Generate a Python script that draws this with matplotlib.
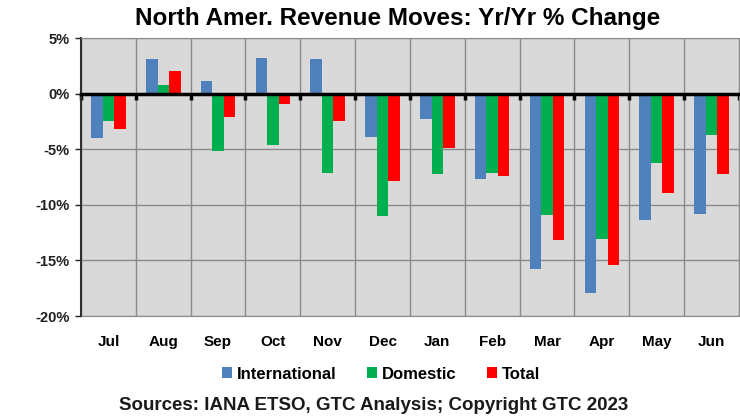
import numpy as np
import matplotlib
matplotlib.use("Agg")
import matplotlib.pyplot as plt
from matplotlib.ticker import FuncFormatter

plt.rcParams['font.family'] = ['Liberation Sans', 'DejaVu Sans']

months = ["Jul", "Aug", "Sep", "Oct", "Nov", "Dec", "Jan", "Feb", "Mar", "Apr", "May", "Jun"]
international = [-4.0, 3.1, 1.1, 3.2, 3.1, -3.9, -2.3, -7.7, -15.8, -17.9, -11.4, -10.8]
domestic = [-2.5, 0.8, -5.2, -4.6, -7.1, -11.0, -7.2, -7.1, -10.9, -13.1, -6.2, -3.7]
total = [-3.2, 2.0, -2.1, -0.9, -2.5, -7.9, -4.9, -7.4, -13.2, -15.4, -8.9, -7.2]

fig = plt.figure(figsize=(7.4, 4.18), dpi=100)
ax = fig.add_axes([0.1095, 0.244, 0.889, 0.665])
ax.set_facecolor("#d9d9d9")

x = np.arange(len(months))
w = 0.21
ax.bar(x - w, international, w, color="#4f81bd", label="International", zorder=3)
ax.bar(x, domestic, w, color="#00b050", label="Domestic", zorder=3)
ax.bar(x + w, total, w, color="#ff0000", label="Total", zorder=3)

ax.set_xlim(-0.5, len(months) - 0.5)
ax.set_ylim(-20, 5)
ax.set_yticks(np.arange(-20, 6, 5))
ax.yaxis.set_major_formatter(FuncFormatter(lambda v, p: "%d%%" % v))
for lab in ax.get_yticklabels():
    lab.set_fontweight("bold")
ax.tick_params(axis="y", labelsize=10.5, length=4, width=1, colors="#202020", pad=4)

# category boundaries and grid
ax.set_xticks(np.arange(len(months) + 1) - 0.5)
ax.set_xticklabels([])
ax.tick_params(axis="x", length=4, width=2.5, color="black", direction="out")
ax.grid(True, color="#8a8a8a", linewidth=1, zorder=1)

ax.spines["bottom"].set_position(("data", 0))
ax.spines["bottom"].set_linewidth(2.5)
ax.spines["bottom"].set_zorder(4)
ax.spines["left"].set_color("#303030")
ax.spines["left"].set_linewidth(1.5)
ax.spines["top"].set_color("#8a8a8a")
ax.spines["right"].set_color("#8a8a8a")

sec = ax.secondary_xaxis("bottom")
sec.set_xticks(x)
sec.set_xticklabels(months, fontweight="bold", fontsize=11)
sec.tick_params(length=0, pad=14)
sec.spines["bottom"].set_color("#8a8a8a")

fig.text(0.537, 0.955, "North Amer. Revenue Moves: Yr/Yr % Change", ha="center", va="center",
         fontsize=17.5, fontweight="bold")

fig.legend(loc="center", bbox_to_anchor=(0.515, 0.105), ncol=3, frameon=False,
           prop={"weight": "bold", "size": 12}, handlelength=0.6, handleheight=0.6,
           handletextpad=0.3, columnspacing=1.8)

fig.text(0.505, 0.03, "Sources: IANA ETSO, GTC Analysis; Copyright GTC 2023", ha="center", va="center",
         fontsize=13.5, fontweight="bold", color="#1a1a1a")

fig.savefig("out.png", dpi=100)
